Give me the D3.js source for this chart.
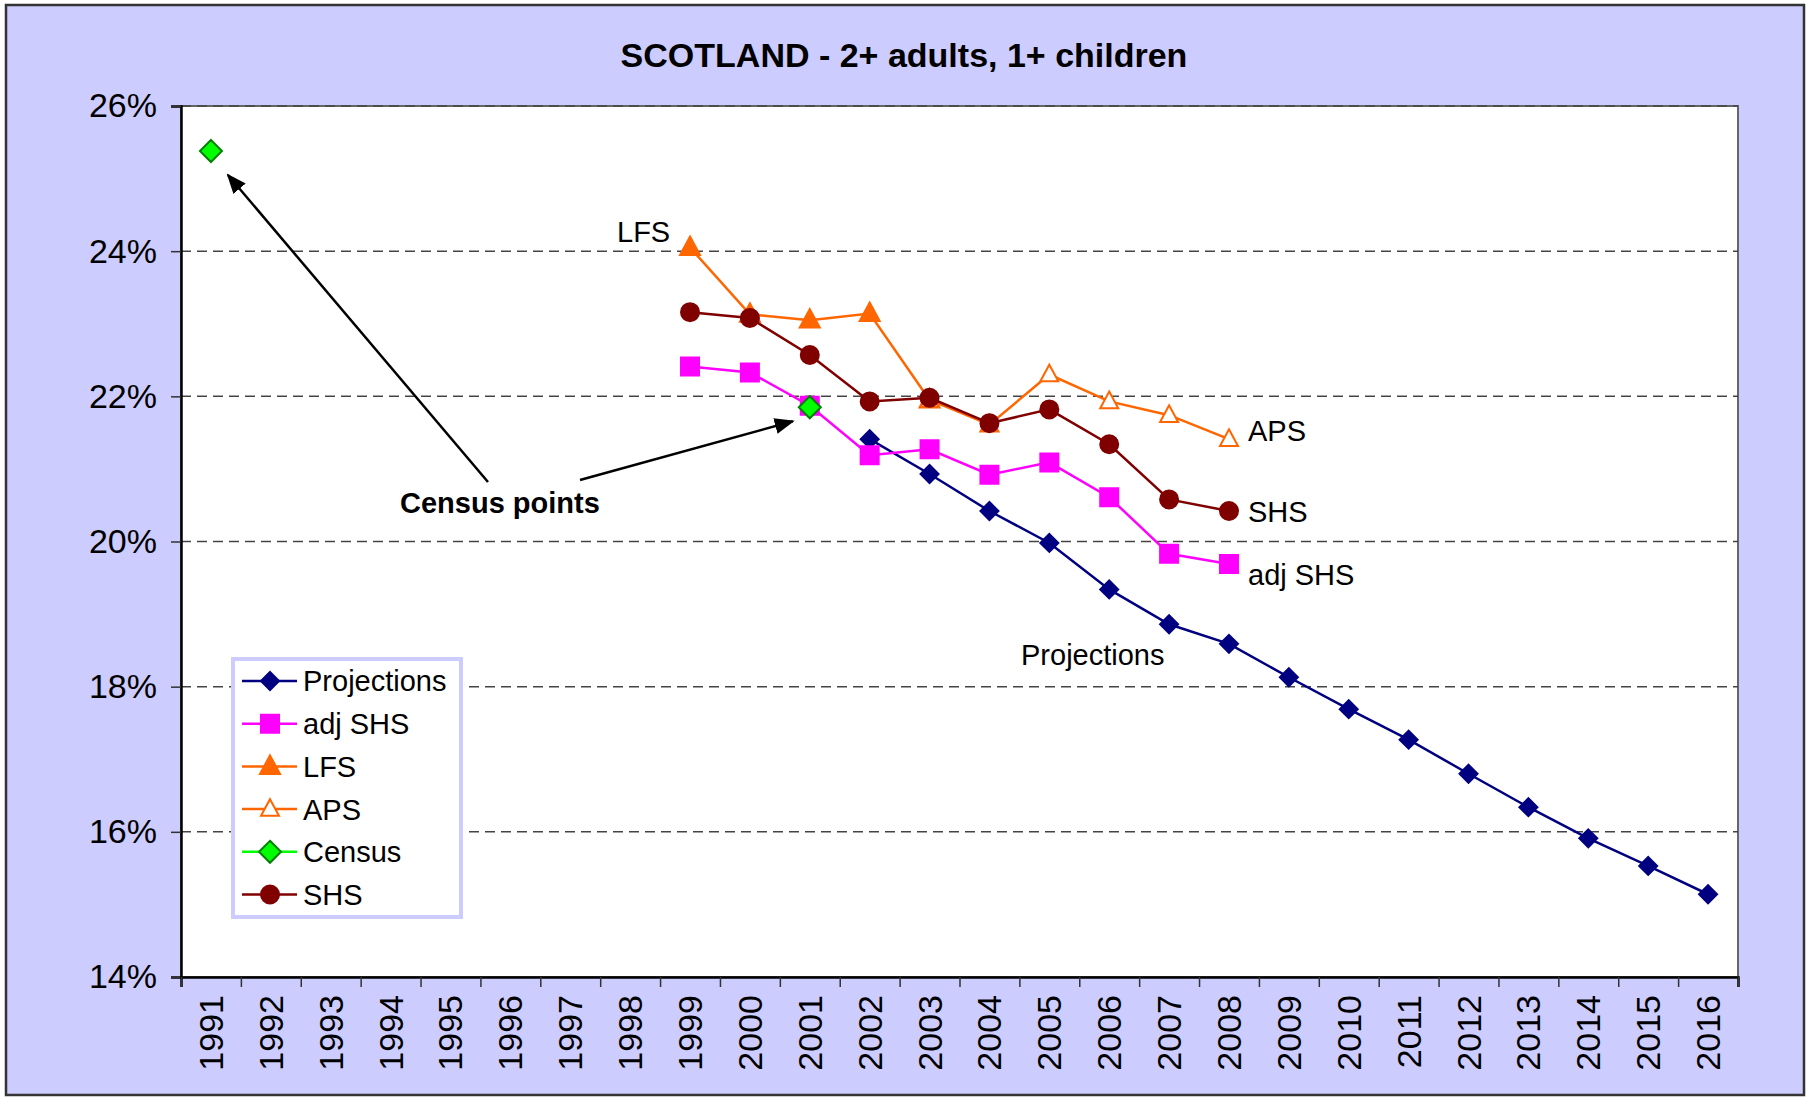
<!DOCTYPE html>
<html>
<head>
<meta charset="utf-8">
<script src="https://cdn.jsdelivr.net/npm/d3@7"></script>
<style>
  body { margin: 0; background: #fff; }
  text { font-family: Arial, "Liberation Sans", sans-serif; }
</style>
</head>
<body>
<div class="chart"></div>
<script>
var svgWidth = 1808;
var svgHeight = 1098;

// category axis
var years = ["1991","1992","1993","1994","1995","1996","1997","1998","1999","2000",
             "2001","2002","2003","2004","2005","2006","2007","2008","2009","2010",
             "2011","2012","2013","2014","2015","2016"];
var yTicks = [14, 16, 18, 20, 22, 24, 26];

// series (percent)
var projYears = ["2002","2003","2004","2005","2006","2007","2008","2009","2010","2011","2012","2013","2014","2015","2016"];
var projValues = [21.41, 20.93, 20.42, 19.98, 19.34, 18.86, 18.59, 18.13, 17.69, 17.27, 16.80, 16.34, 15.91, 15.53, 15.14];

var adjYears = ["1999","2000","2001","2002","2003","2004","2005","2006","2007","2008"];
var adjValues = [22.41, 22.33, 21.87, 21.19, 21.27, 20.92, 21.09, 20.61, 19.83, 19.69];

var lfsYears = ["1999","2000","2001","2002","2003"];
var lfsValues = [24.05, 23.13, 23.05, 23.14, 21.95];

var apsYears = ["2003","2004","2005","2006","2007","2008"];
var apsValues = [21.95, 21.61, 22.30, 21.93, 21.74, 21.41];

var censusYears = ["1991","2001"];
var censusValues = [25.38, 21.85];

var shsYears = ["1999","2000","2001","2002","2003","2004","2005","2006","2007","2008"];
var shsValues = [23.16, 23.08, 22.57, 21.93, 21.98, 21.63, 21.82, 21.34, 20.58, 20.42];

var plot = { left: 181, right: 1738, top: 106, bottom: 977 };

var svg = d3.select(".chart")
    .append("svg")
    .attr("width", svgWidth)
    .attr("height", svgHeight);

// background + outer frame
svg.append("rect")
    .attr("x", 6).attr("y", 5)
    .attr("width", svgWidth - 10).attr("height", svgHeight - 8)
    .attr("fill", "#ccccff")
    .attr("stroke", "#333")
    .attr("stroke-width", 2.5);

svg.append("text")
    .attr("x", 904).attr("y", 67)
    .attr("text-anchor", "middle")
    .style("font-weight", "bold")
    .style("font-size", "34px")
    .text("SCOTLAND - 2+ adults, 1+ children");

var x = d3.scaleBand()
    .domain(years)
    .range([plot.left, plot.right])
    .padding(0);

var xEdge = d3.scaleLinear()
    .domain([0, years.length])
    .range([plot.left, plot.right]);

var y = d3.scaleLinear()
    .domain([14, 26])
    .range([plot.bottom, plot.top]);

function cx(yr) { return x(yr) + x.bandwidth() / 2; }

// plot area
svg.append("rect")
    .attr("x", plot.left).attr("y", plot.top)
    .attr("width", plot.right - plot.left)
    .attr("height", plot.bottom - plot.top)
    .attr("fill", "#fff")
    .attr("stroke", "#666")
    .attr("stroke-width", 2);

// gridlines
svg.append("g")
    .selectAll("line")
    .data(yTicks.slice(1))
    .enter()
    .append("line")
    .attr("x1", plot.left).attr("x2", plot.right)
    .attr("y1", function(d) { return y(d); })
    .attr("y2", function(d) { return y(d); })
    .attr("stroke", "#444")
    .attr("stroke-width", 1.5)
    .attr("stroke-dasharray", "10,6");

// y axis
var yAxis = d3.axisLeft(y)
    .tickValues(yTicks)
    .tickFormat(function(d) { return d + "%"; })
    .tickSize(10)
    .tickPadding(14);

var yG = svg.append("g")
    .attr("transform", "translate(" + plot.left + ",0)")
    .call(yAxis);
yG.select(".domain").attr("stroke", "#000").attr("stroke-width", 2.5);
yG.selectAll(".tick line").attr("stroke", "#333").attr("stroke-width", 1.5);
yG.selectAll("text")
    .attr("fill", "#000")
    .style("font-size", "34px")
    .style("font-family", "Arial, 'Liberation Sans', sans-serif");

// x axis (ticks between categories)
var xAxis = d3.axisBottom(xEdge)
    .tickValues(d3.range(years.length + 1))
    .tickFormat("")
    .tickSize(10);

var xG = svg.append("g")
    .attr("transform", "translate(0," + plot.bottom + ")")
    .call(xAxis);
xG.select(".domain").attr("stroke", "#000").attr("stroke-width", 2.5);
xG.selectAll(".tick line").attr("stroke", "#333").attr("stroke-width", 1.5);

svg.append("g")
    .selectAll("text")
    .data(years)
    .enter()
    .append("text")
    .attr("transform", function(d) {
      return "translate(" + (cx(d) + 12) + "," + (plot.bottom + 18) + ") rotate(-90)";
    })
    .attr("text-anchor", "end")
    .style("font-size", "34px")
    .text(function(d) { return d; });

// markers
function markerPath(type, s) {
  if (type === "diamond") {
    return "M0," + (-s) + "L" + s + ",0L0," + s + "L" + (-s) + ",0Z";
  }
  if (type === "square") {
    return "M" + (-s) + "," + (-s) + "h" + (2 * s) + "v" + (2 * s) + "h" + (-2 * s) + "Z";
  }
  if (type === "triangle") {
    return "M0," + (-s * 1.1) + "L" + s + "," + (s * 0.75) + "L" + (-s) + "," + (s * 0.75) + "Z";
  }
  return d3.symbol().type(d3.symbolCircle).size(Math.PI * s * s)();
}

var series = [
  { name: "Projections", yrs: projYears, vals: projValues, color: "#000080", marker: "diamond", size: 9, fill: "#000080", stroke: "#000080", line: true },
  { name: "adj SHS", yrs: adjYears, vals: adjValues, color: "#ff00ff", marker: "square", size: 9, fill: "#ff00ff", stroke: "#ff00ff", line: true },
  { name: "LFS", yrs: lfsYears, vals: lfsValues, color: "#ff6600", marker: "triangle", size: 10, fill: "#ff6600", stroke: "#ff6600", line: true },
  { name: "APS", yrs: apsYears, vals: apsValues, color: "#ff6600", marker: "triangle", size: 9, fill: "#fff", stroke: "#ff6600", line: true },
  { name: "Census", yrs: censusYears, vals: censusValues, color: "#00ff00", marker: "diamond", size: 11, fill: "#00ff00", stroke: "#008000", line: false },
  { name: "SHS", yrs: shsYears, vals: shsValues, color: "#800000", marker: "circle", size: 9, fill: "#800000", stroke: "#800000", line: true }
];

var line = d3.line()
    .x(function(d) { return cx(d.yr); })
    .y(function(d) { return y(d.v); });

var drawOrder = [0, 1, 2, 3, 5, 4];
drawOrder.forEach(function(i) {
  var s = series[i];
  var pts = s.yrs.map(function(yr, k) { return { yr: yr, v: s.vals[k] }; });
  var g = svg.append("g");
  if (s.line) {
    g.append("path")
      .datum(pts)
      .attr("d", line)
      .attr("fill", "none")
      .attr("stroke", s.color)
      .attr("stroke-width", 2.5);
  }
  g.selectAll("path.mk")
    .data(pts)
    .enter()
    .append("path")
    .attr("class", "mk")
    .attr("transform", function(d) { return "translate(" + cx(d.yr) + "," + y(d.v) + ")"; })
    .attr("d", markerPath(s.marker, s.size))
    .attr("fill", s.fill)
    .attr("stroke", s.stroke)
    .attr("stroke-width", 2);
});

// series labels
var labels = [
  { t: "LFS", x: 617, y: 242 },
  { t: "APS", x: 1248, y: 441 },
  { t: "SHS", x: 1248, y: 522 },
  { t: "adj SHS", x: 1248, y: 585 },
  { t: "Projections", x: 1021, y: 665 }
];
svg.append("g")
    .selectAll("text")
    .data(labels)
    .enter()
    .append("text")
    .attr("x", function(d) { return d.x; })
    .attr("y", function(d) { return d.y; })
    .style("font-size", "29px")
    .text(function(d) { return d.t; });

svg.append("text")
    .attr("x", 400).attr("y", 513)
    .style("font-size", "29px")
    .style("font-weight", "bold")
    .text("Census points");

// arrows to census points
var defs = svg.append("defs");
defs.append("marker")
    .attr("id", "arrow")
    .attr("viewBox", "0 0 10 10")
    .attr("refX", 9).attr("refY", 5)
    .attr("markerWidth", 8).attr("markerHeight", 8)
    .attr("orient", "auto")
    .append("path")
    .attr("d", "M0,1L10,5L0,9Z")
    .attr("fill", "#000");

var arrows = [
  { x1: 488, y1: 482, tx: cx(censusYears[0]) + 17, ty: y(censusValues[0]) + 24 },
  { x1: 580, y1: 480, tx: cx(censusYears[1]) - 17, ty: y(censusValues[1]) + 14 }
];
svg.append("g")
    .selectAll("line")
    .data(arrows)
    .enter()
    .append("line")
    .attr("x1", function(d) { return d.x1; })
    .attr("y1", function(d) { return d.y1; })
    .attr("x2", function(d) { return d.tx; })
    .attr("y2", function(d) { return d.ty; })
    .attr("stroke", "#000")
    .attr("stroke-width", 2.5)
    .attr("marker-end", "url(#arrow)");

// legend
var legend = svg.append("g");
legend.append("rect")
    .attr("x", 233).attr("y", 659)
    .attr("width", 228).attr("height", 258)
    .attr("fill", "#fff")
    .attr("stroke", "#ccccff")
    .attr("stroke-width", 4);

var rows = legend.selectAll("g.row")
    .data(series)
    .enter()
    .append("g")
    .attr("class", "row")
    .attr("transform", function(d, i) { return "translate(0," + (681 + i * 42.7) + ")"; });

rows.append("line")
    .attr("x1", 242).attr("x2", 297)
    .attr("stroke", function(d) { return d.color; })
    .attr("stroke-width", 2.5);
rows.append("path")
    .attr("transform", "translate(270,0)")
    .attr("d", function(d) { return markerPath(d.marker, d.size); })
    .attr("fill", function(d) { return d.fill; })
    .attr("stroke", function(d) { return d.stroke; })
    .attr("stroke-width", 2);
rows.append("text")
    .attr("x", 303)
    .attr("dy", "0.36em")
    .style("font-size", "29px")
    .text(function(d) { return d.name; });
</script>
</body>
</html>
